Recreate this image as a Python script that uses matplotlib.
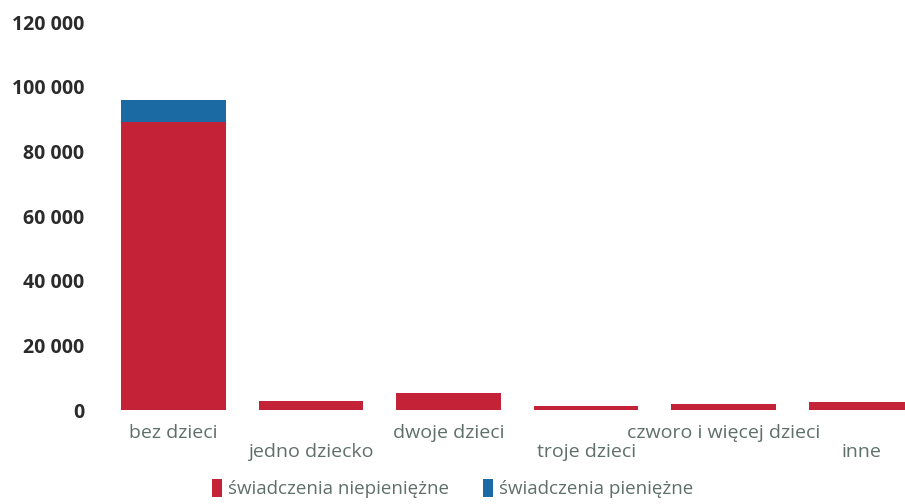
import matplotlib
matplotlib.use("Agg")
import matplotlib.pyplot as plt
import matplotlib.transforms as mtransforms
from matplotlib.ticker import FuncFormatter

# --- Data ---
categories = ["bez dzieci", "jedno dziecko", "dwoje dzieci", "troje dzieci",
              "czworo i więcej dzieci", "inne"]
niepieniezne = [89000, 2900, 5200, 1200, 1800, 2500]
pieniezne = [6900, 0, 0, 0, 0, 0]
yticks = [0, 20000, 40000, 60000, 80000, 100000, 120000]

# --- Styling ---
plt.rcParams["font.family"] = ["Open Sans", "DejaVu Sans"]
RED = "#c42237"
BLUE = "#1c6aa3"
TEXT = "#5f6f6a"

fig = plt.figure(figsize=(9.05, 5.04), dpi=100)
ax = fig.add_axes([105 / 905, 1 - 410 / 504, 800 / 905, 388 / 504])

x = list(range(len(categories)))
ax.bar(x, niepieniezne, width=0.76, color=RED, label="świadczenia niepieniężne")
ax.bar(x, pieniezne, width=0.76, bottom=niepieniezne, color=BLUE,
       label="świadczenia pieniężne")

ax.set_xlim(-0.5, 5.32)
ax.set_ylim(0, 120000)
ax.set_yticks(yticks)
ax.yaxis.set_major_formatter(FuncFormatter(lambda v, p: f"{int(v):,}".replace(",", " ")))
for lab in ax.get_yticklabels():
    lab.set_fontweight("bold")
    lab.set_color("#2b2b2b")
    lab.set_fontsize(14)

# staggered category labels, nudged a little left like the original
ax.set_xticks(x)
ax.set_xticklabels([c if i % 2 == 0 else "\n" + c for i, c in enumerate(categories)],
                   fontsize=14, color=TEXT, linespacing=1.05)
shift = mtransforms.ScaledTranslation(-9 / 100, 0, fig.dpi_scale_trans)
for lab in ax.get_xticklabels():
    lab.set_transform(lab.get_transform() + shift)
ax.tick_params(axis="both", length=0)
ax.tick_params(axis="x", pad=10)
ax.tick_params(axis="y", pad=15)

for s in ax.spines.values():
    s.set_visible(False)

fig.legend(loc="lower center", bbox_to_anchor=(0.5, -0.022), ncol=2, frameon=False,
           labelcolor=TEXT, handlelength=0.55, handleheight=1.1,
           handletextpad=0.3, columnspacing=1.8, prop={"size": 13.5})

fig.savefig("out.png", dpi=100)
